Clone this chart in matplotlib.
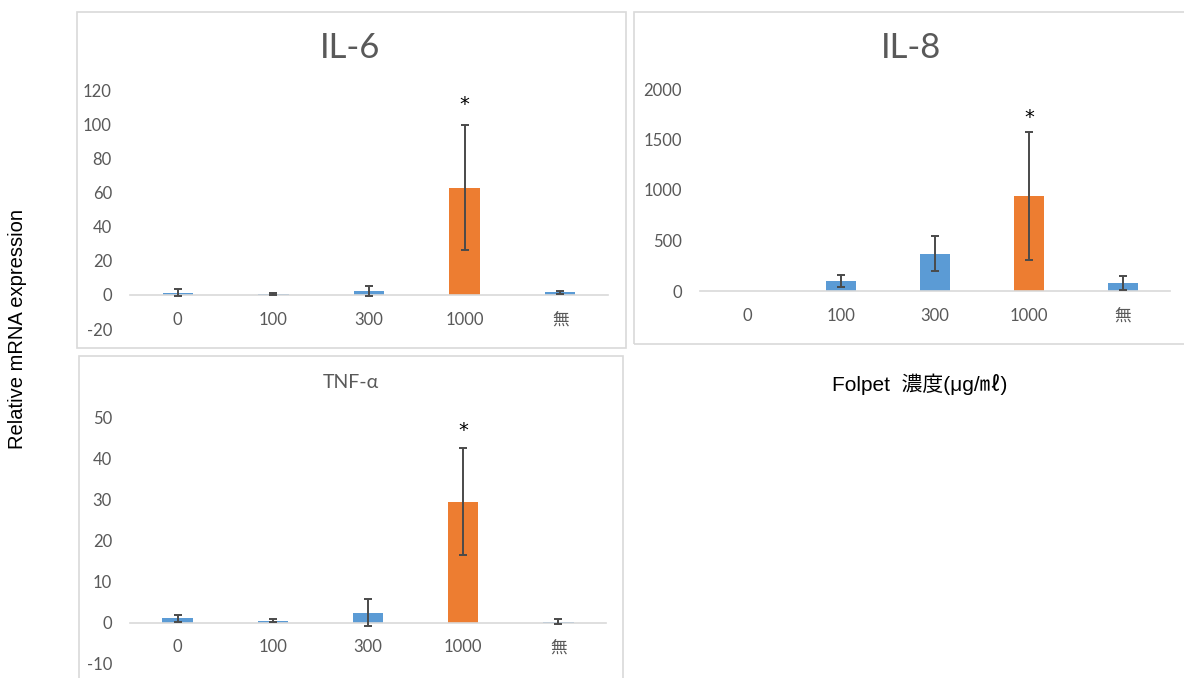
import numpy as np
import matplotlib
matplotlib.use("Agg")
import matplotlib.pyplot as plt
from matplotlib.patches import Rectangle

plt.rcParams['font.family'] = ['Lato', 'Noto Sans CJK JP', 'DejaVu Sans']
plt.rcParams['axes.unicode_minus'] = False

W, H = 1184, 678

categories = ['0', '100', '300', '1000', '無']

il6_mean = [1.2, 0.6, 2.4, 63.0, 1.6]
il6_err = [2.1, 0.8, 3.1, 36.7, 0.9]

il8_mean = [0, 96, 370, 937, 79]
il8_err = [0, 60, 175, 635, 70]

tnf_mean = [1.1, 0.5, 2.5, 29.4, 0.3]
tnf_err = [0.9, 0.4, 3.2, 13.0, 0.6]

# index of the significant bar (marked with *) and its colour
sig_idx = 3
blue = '#5B9BD5'
orange = '#ED7D31'
grey_txt = '#595959'
frame = '#D9D9D9'


def px_box(x0, y0, x1, y1):
    # pixel box (top-left origin) -> figure fraction [left, bottom, width, height]
    return [x0 / W, 1 - y1 / H, (x1 - x0) / W, (y1 - y0) / H]


def panel(fig, rect, means, errs, ylim, ystep, star_y):
    ax = fig.add_axes(rect)
    x = np.arange(len(categories))
    colors = [orange if i == sig_idx else blue for i in x]
    ax.bar(x, means, width=0.32, color=colors, zorder=2)
    m = np.array(errs) > 0
    ax.errorbar(x[m], np.array(means)[m], yerr=np.array(errs)[m], fmt='none',
                ecolor='#4A4A4A', elinewidth=1.4, capsize=2.6, capthick=1.4, zorder=3)
    ax.text(sig_idx, star_y, '*', ha='center', va='center', fontsize=14,
            family='DejaVu Sans', color='black')
    ax.set_xlim(-0.5, len(categories) - 0.5)
    ax.set_ylim(*ylim)
    ax.set_yticks(np.arange(ylim[0], ylim[1] + ystep / 2, ystep))
    ax.set_xticks(x)
    ax.set_xticklabels(categories)
    for s in ['top', 'right', 'left']:
        ax.spines[s].set_visible(False)
    ax.spines['bottom'].set_position(('data', 0))
    ax.spines['bottom'].set_color(frame)
    ax.spines['bottom'].set_linewidth(1.2)
    ax.tick_params(axis='y', length=0, pad=13, labelsize=12, labelcolor=grey_txt)
    ax.tick_params(axis='x', length=0, pad=12, labelsize=12, labelcolor=grey_txt)
    ax.patch.set_alpha(0)
    return ax


fig = plt.figure(figsize=(W / 100, H / 100), dpi=100)

# panel frames
for (x0, y0, x1, y1) in [(77, 12, 626, 348), (634, 12, 1192, 344), (79, 356, 623, 692)]:
    fig.add_artist(Rectangle((x0 / W, 1 - y1 / H), (x1 - x0) / W, (y1 - y0) / H,
                             transform=fig.transFigure, fill=False,
                             edgecolor=frame, linewidth=1.2))

panel(fig, px_box(130, 90.7, 608, 329), il6_mean, il6_err, (-20, 120), 20, 112)
panel(fig, px_box(700, 89, 1170, 291), il8_mean, il8_err, (0, 2000), 500, 1720)
panel(fig, px_box(130, 417, 606, 664), tnf_mean, tnf_err, (-10, 50), 10, 46.6)

fig.text(350 / W, 1 - 48 / H, 'IL-6', ha='center', va='center', fontsize=25, color=grey_txt)
fig.text(911 / W, 1 - 48 / H, 'IL-8', ha='center', va='center', fontsize=25, color=grey_txt)
fig.text(351 / W, 1 - 383 / H, 'TNF-α', ha='center', va='center', fontsize=14, color=grey_txt)

fig.text(18 / W, 1 - 329 / H, 'Relative mRNA expression', rotation=90, ha='center',
         va='center', fontsize=14.5, family=['Liberation Sans', 'Noto Sans CJK JP'])
fig.text(920 / W, 1 - 384 / H, 'Folpet  濃度(μg/㎖)', ha='center', va='center',
         fontsize=15, family=['Liberation Sans', 'Noto Sans CJK JP'])

fig.savefig('out.png', dpi=100)
